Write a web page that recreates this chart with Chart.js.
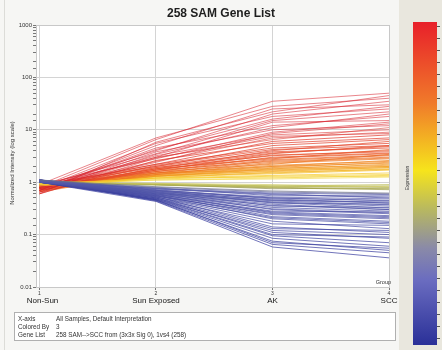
<!DOCTYPE html>
<html>
<head>
<meta charset="utf-8">
<script src="https://cdn.jsdelivr.net/npm/chart.js@4/dist/chart.umd.min.js"></script>
<style>
  html, body { margin: 0; padding: 0; background: #f6f6f4; }
  canvas { display: block; }
</style>
</head>
<body>
<canvas id="myChart" width="442" height="350"></canvas>
<script>
// conditions on the x axis
const categories = ['Non-Sun', 'Sun Exposed', 'AK', 'SCC'];
const groupNumbers = ['1', '2', '3', '4'];
const majorTicks = [0.01, 0.1, 1, 10, 100, 1000];

// normalized intensity per gene: [Non-Sun, Sun Exposed, AK, SCC]
const upGenes = [
    [0.8, 6.5, 35, 50], [0.9, 7, 28, 40], [0.6, 5.8, 22, 45], [0.7, 5, 25, 30], [0.8, 4, 20, 35],
    [0.75, 5.5, 18, 25], [0.7, 4.2, 16, 28], [0.85, 3.5, 15, 22], [0.7, 4.5, 12, 18], [0.8, 3, 14, 15],
    [0.65, 3.4, 11, 20], [0.65, 3.8, 10, 12], [0.9, 2.8, 9, 14], [0.75, 2.4, 8.5, 13], [0.75, 3.2, 8, 10],
    [0.6, 2.9, 7.5, 8.5], [0.8, 2.5, 7, 9], [0.7, 3, 6.5, 11], [0.85, 2.2, 6, 8], [0.6, 2.6, 5.5, 7],
    [0.8, 2, 5, 6.5], [0.8, 2.2, 4.5, 5.5], [0.7, 2.1, 4.2, 5], [0.75, 1.8, 4, 6], [0.9, 2, 3.8, 4.5],
    [0.65, 1.9, 3.6, 4.8], [0.7, 1.7, 3.5, 5], [0.75, 1.7, 3.3, 3.8], [0.85, 1.9, 3.2, 4], [0.8, 1.6, 3, 3.6],
    [0.8, 1.8, 2.9, 3.5], [0.75, 1.8, 2.8, 4.2], [0.7, 1.6, 2.7, 3.3], [0.9, 1.5, 2.6, 3.2], [0.8, 1.7, 2.5, 3],
    [0.65, 1.5, 2.4, 2.9], [0.7, 1.4, 2.3, 2.8], [0.85, 1.6, 2.2, 3.4], [0.8, 1.45, 2.1, 2.5], [0.8, 1.5, 2, 2.6],
    [0.75, 1.4, 2.0, 2.3], [0.9, 1.4, 1.9, 2.4], [0.7, 1.35, 1.85, 2.1], [0.75, 1.3, 1.8, 2.2], [0.85, 1.3, 1.75, 2.0],
    [0.8, 1.5, 1.7, 2], [0.7, 1.3, 1.65, 1.9], [0.85, 1.35, 1.6, 1.9], [0.8, 1.2, 1.55, 1.75], [0.9, 1.3, 1.5, 1.8],
    [0.8, 1.25, 1.45, 1.7]
];
const flatGenes = [
    [0.9, 1.2, 1.35, 1.5], [0.95, 1.15, 1.3, 1.4], [0.85, 1.2, 1.25, 1.3], [0.9, 1.1, 1.2, 1.35],
    [0.9, 1.1, 1.15, 1.25], [1.0, 0.9, 0.85, 0.9], [0.95, 0.95, 0.9, 0.82], [1.0, 0.95, 0.85, 0.8],
    [1.05, 0.9, 0.8, 0.75], [1.0, 0.92, 0.82, 0.85], [0.95, 0.88, 0.78, 0.72], [1.05, 0.9, 0.75, 0.78]
];
const downGenes = [
    [1.1, 0.82, 0.68, 0.62], [1.05, 0.8, 0.65, 0.6], [1.05, 0.76, 0.62, 0.58], [1.1, 0.75, 0.6, 0.5],
    [1.0, 0.74, 0.58, 0.52], [1.0, 0.78, 0.55, 0.55], [1.1, 0.7, 0.52, 0.48], [1.05, 0.7, 0.5, 0.45],
    [1.05, 0.68, 0.5, 0.44], [1.1, 0.72, 0.48, 0.4], [1.0, 0.66, 0.46, 0.4], [1.0, 0.68, 0.45, 0.42],
    [1.1, 0.63, 0.44, 0.37], [1.05, 0.65, 0.42, 0.35], [1.05, 0.62, 0.41, 0.32], [1.1, 0.7, 0.4, 0.38],
    [1.0, 0.62, 0.38, 0.3], [1.0, 0.6, 0.36, 0.3], [1.05, 0.66, 0.35, 0.33], [1.1, 0.6, 0.33, 0.28],
    [1.1, 0.58, 0.31, 0.26], [1.0, 0.64, 0.3, 0.25], [1.05, 0.58, 0.28, 0.27], [1.05, 0.56, 0.27, 0.23],
    [1.1, 0.6, 0.26, 0.22], [1.0, 0.54, 0.25, 0.21], [1.0, 0.55, 0.24, 0.2], [1.05, 0.57, 0.22, 0.18],
    [1.1, 0.52, 0.21, 0.17], [1.1, 0.55, 0.2, 0.16], [1.0, 0.52, 0.18, 0.13], [1.05, 0.5, 0.16, 0.15],
    [1.1, 0.53, 0.14, 0.11], [1.05, 0.5, 0.13, 0.12], [1.0, 0.48, 0.12, 0.1], [1.05, 0.5, 0.11, 0.085],
    [1.0, 0.48, 0.1, 0.09], [1.1, 0.47, 0.095, 0.07], [1.0, 0.46, 0.085, 0.06], [1.05, 0.45, 0.075, 0.05],
    [1.1, 0.46, 0.07, 0.055], [1.1, 0.44, 0.065, 0.045], [1.0, 0.43, 0.058, 0.036]
];

const chartTitle = '258 SAM Gene List';
const yTitle = 'Normalized Intensity (log scale)';
const infoLabels = ['X-axis', 'Colored By', 'Gene List'];
const infoValues = ['All Samples, Default Interpretation', '3', '258 SAM-->SCC from (3x3x Sig 0), 1vs4 (258)'];

// colour ramp (log10 of the "colored by" condition -> rgb)
const rampStops = [
    [1.0, [215, 35, 45]],
    [0.5, [232, 80, 40]],
    [0.3, [240, 135, 30]],
    [0.12, [245, 205, 40]],
    [0.0, [240, 235, 130]],
    [-0.1, [165, 165, 60]],
    [-0.2, [85, 90, 170]],
    [-1.3, [50, 55, 155]]
];
function rampColor(v, alpha) {
    var t = Math.log10(v);
    var c = rampStops[rampStops.length - 1][1];
    if (t >= rampStops[0][0]) c = rampStops[0][1];
    for (var i = 0; i < rampStops.length - 1; i++) {
        var a = rampStops[i], b = rampStops[i + 1];
        if (t <= a[0] && t >= b[0]) {
            var f = (a[0] - t) / (a[0] - b[0]);
            c = a[1].map((x, k) => Math.round(x + (b[1][k] - x) * f));
        }
    }
    return 'rgba(' + c[0] + ',' + c[1] + ',' + c[2] + ',' + alpha + ')';
}

var datasets = [];
downGenes.concat(flatGenes, upGenes).forEach(row => {
    datasets.push({
        data: row.map((v, i) => ({ x: i + 1, y: v })),
        borderColor: rampColor(row[2], row[2] > 6 ? 0.55 : 0.7),
        borderWidth: 1,
        pointRadius: 0,
        tension: 0
    });
});

const FONT = '"Liberation Sans", Arial, sans-serif';

const extras = {
    id: 'extras',
    beforeDraw(chart) {
        var c = chart.ctx, a = chart.chartArea;
        c.save();
        c.fillStyle = '#f6f6f4';
        c.fillRect(0, 0, chart.width, chart.height);
        c.strokeStyle = '#dcdcd8';
        c.beginPath();
        c.moveTo(4.5, 0);
        c.lineTo(4.5, 350);
        c.stroke();
        c.fillStyle = '#ffffff';
        c.fillRect(a.left, a.top, a.right - a.left, a.bottom - a.top);
        c.restore();
    },
    afterDraw(chart) {
        var c = chart.ctx, a = chart.chartArea, xs = chart.scales.x;
        c.save();
        // plot border
        c.strokeStyle = '#c8c8c8';
        c.lineWidth = 1;
        c.strokeRect(a.left + 0.5, a.top + 0.5, a.right - a.left, a.bottom - a.top);
        // title, centred on the whole window
        c.fillStyle = '#1e1e1e';
        c.font = 'bold 12px ' + FONT;
        c.textAlign = 'center';
        c.textBaseline = 'middle';
        c.fillText(chartTitle, 221, 14);
        // y axis title
        c.save();
        c.translate(12, 163);
        c.rotate(-Math.PI / 2);
        c.fillStyle = '#333';
        c.font = '6px ' + FONT;
        c.fillText(yTitle, 0, 0);
        c.restore();
        // category names
        c.fillStyle = '#151515';
        c.font = '8px ' + FONT;
        categories.forEach((name, i) => {
            var px = xs.getPixelForValue(i + 1);
            if (i === 0) px += 3;
            c.fillText(name, px, a.bottom + 14);
        });
        c.font = '5.5px ' + FONT;
        c.textAlign = 'right';
        c.textBaseline = 'bottom';
        c.fillStyle = '#333';
        c.fillText('Group', a.right + 2, a.bottom - 2);
        // info box
        c.fillStyle = '#ffffff';
        c.fillRect(14, 312, 382, 29);
        c.strokeStyle = '#b0b0b0';
        c.strokeRect(14.5, 312.5, 381, 28);
        c.fillStyle = '#333';
        c.textAlign = 'left';
        c.textBaseline = 'middle';
        c.font = '6.3px ' + FONT;
        infoLabels.forEach((lab, i) => {
            c.fillText(lab, 18, 319 + i * 8);
            c.fillText(infoValues[i], 56, 319 + i * 8);
        });
        // colour bar panel
        c.fillStyle = '#e9e7de';
        c.fillRect(399, 0, 43, 350);
        var g = c.createLinearGradient(0, 22, 0, 345);
        g.addColorStop(0, '#e8202a');
        g.addColorStop(0.25, '#f07a2a');
        g.addColorStop(0.46, '#f6e41c');
        g.addColorStop(0.58, '#b8b860');
        g.addColorStop(0.7, '#8a8aa8');
        g.addColorStop(0.8, '#6a6cc0');
        g.addColorStop(1, '#2a3098');
        c.fillStyle = g;
        c.fillRect(413, 22, 24, 323);
        c.strokeStyle = '#555';
        for (var yy = 26; yy < 345; yy += 12) {
            c.beginPath();
            c.moveTo(437, yy + 0.5);
            c.lineTo(440, yy + 0.5);
            c.stroke();
        }
        c.translate(408, 178);
        c.rotate(-Math.PI / 2);
        c.textAlign = 'center';
        c.fillStyle = '#333';
        c.font = '5px ' + FONT;
        c.fillText('Expression', 0, 0);
        c.restore();
    }
};

var ctx = document.getElementById('myChart').getContext('2d');
new Chart(ctx, {
    type: 'line',
    data: { datasets: datasets },
    plugins: [extras],
    options: {
        responsive: false,
        animation: false,
        events: [],
        layout: { padding: { left: 2, right: 53, top: 25, bottom: 43 } },
        plugins: {
            legend: { display: false },
            tooltip: { enabled: false },
            title: { display: false }
        },
        scales: {
            x: {
                type: 'linear',
                min: 0.97,
                max: 4,
                afterBuildTicks: (scale) => { scale.ticks = groupNumbers.map((g, i) => ({ value: i + 1 })); },
                afterFit: (scale) => { scale.height = 20; },
                ticks: {
                    callback: (v) => groupNumbers[v - 1],
                    color: '#333',
                    font: { family: FONT, size: 5 },
                    padding: 1,
                    maxRotation: 0
                },
                grid: { color: '#d4d4d4', tickColor: '#777', tickLength: 3 },
                border: { color: '#666' }
            },
            y: {
                type: 'logarithmic',
                min: 0.01,
                max: 1000,
                afterFit: (scale) => { scale.width = 34; },
                ticks: {
                    autoSkip: false,
                    callback: (v) => {
                        var idx = majorTicks.findIndex(m => Math.abs(m - v) / m < 1e-6);
                        return idx >= 0 ? String(majorTicks[idx]) : '';
                    },
                    color: '#333',
                    font: { family: FONT, size: 6 },
                    padding: 1
                },
                grid: {
                    color: (c) => majorTicks.some(m => Math.abs(m - c.tick.value) / m < 1e-6) ? '#d4d4d4' : 'rgba(0,0,0,0)',
                    tickColor: '#777',
                    tickLength: 3
                },
                border: { color: '#666' }
            }
        }
    }
});
</script>
</body>
</html>
